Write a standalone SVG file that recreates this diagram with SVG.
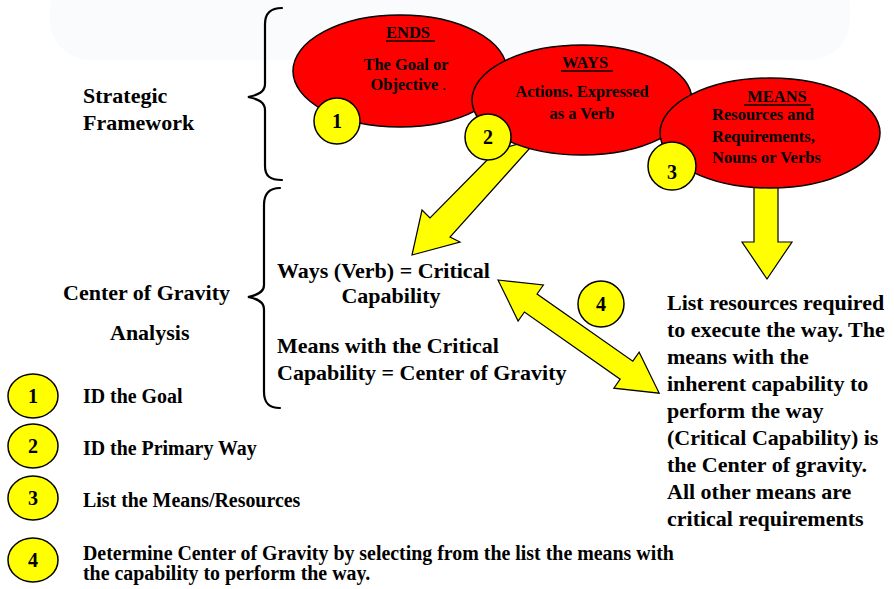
<svg xmlns="http://www.w3.org/2000/svg" width="894" height="589" viewBox="0 0 894 589">
<style>
text{font-family:"Liberation Serif","Times New Roman",serif;font-weight:bold;fill:#000}
.oval{fill:#ff0000;stroke:#000;stroke-width:1.5}
.num{fill:#ffff00;stroke:#000;stroke-width:1.5}
.arr{fill:#ffff00;stroke:#000;stroke-width:1.2;stroke-linejoin:miter}
.brace{fill:none;stroke:#000;stroke-width:2.2;stroke-linecap:round}
.ul{stroke:#000;stroke-width:1.6}
.ell{font-size:16.5px}
.big{font-size:22px}
.leg{font-size:19.9px}
.n{font-size:20px;text-anchor:middle}
.c{text-anchor:middle}
</style>
<rect width="894" height="589" fill="#ffffff"/>
<rect x="50" y="-30" width="800" height="90" rx="40" fill="#fafbfd"/>

<g id="connectors">
  <polygon class="arr" points="497,150 430,218 422,210 412,255 460,242 450,237 539,138"/>
  <polygon class="arr" points="754,180 778,180 778,242 792,242 767,279 742,242 754,242"/>
  <polygon class="arr" transform="translate(498,280) rotate(35.07)" points="0,0 40,-22 40,-11 157,-11 157,-22 197,0 157,22 157,11 40,11 40,22"/>
</g>

<g id="brace-strategic">
  <path class="brace" d="M282,8 C270,8 265,14 265,24 L265,84 C265,92 258,95 248,97 C258,99 265,102 265,110 L265,166 C265,176 270,180 282,180"/>
  <text class="big" x="83" y="103">Strategic</text>
  <text class="big" x="83" y="130">Framework</text>
</g>

<g id="brace-cog">
  <path class="brace" d="M280,188 C268,188 264,195 264,205 L264,285 C264,292 258,295 248,297 C258,299 264,302 264,309 L264,392 C264,402 268,408 280,408"/>
  <text class="big" x="63" y="300">Center of Gravity</text>
  <text class="big" x="110" y="340">Analysis</text>
</g>

<g id="ends">
  <ellipse class="oval" cx="400" cy="71" rx="107" ry="56"/>
  <text class="ell c" x="408" y="38">ENDS</text>
  <line class="ul" x1="386" y1="41" x2="435" y2="41"/>
  <text class="ell c" x="406" y="70">The Goal or</text>
  <text class="ell c" x="408" y="90">Objective <tspan font-size="12">.</tspan></text>
</g>

<g id="ways">
  <ellipse class="oval" cx="582" cy="100" rx="110" ry="55"/>
  <text class="ell c" x="585" y="68">WAYS</text>
  <line class="ul" x1="561" y1="71" x2="613" y2="71"/>
  <text class="ell c" x="582" y="97">Actions. Expressed</text>
  <text class="ell c" x="582" y="119">as a Verb</text>
</g>

<g id="means">
  <ellipse class="oval" cx="770" cy="133" rx="110" ry="55"/>
  <text class="ell c" x="777" y="102">MEANS</text>
  <line class="ul" x1="744" y1="105" x2="811" y2="105"/>
  <text class="ell" x="712" y="120">Resources and</text>
  <text class="ell" x="712" y="142">Requirements,</text>
  <text class="ell" x="712" y="163">Nouns or Verbs</text>
</g>

<g id="step1">
  <circle class="num" cx="337" cy="121" r="23"/>
  <text class="n" x="337" y="128">1</text>
</g>
<g id="step2">
  <circle class="num" cx="488" cy="137" r="23"/>
  <text class="n" x="488" y="144">2</text>
</g>
<g id="step3">
  <circle class="num" cx="672" cy="166" r="24"/>
  <text class="n" x="672" y="179">3</text>
</g>
<g id="step4">
  <circle class="num" cx="601" cy="304" r="23"/>
  <text class="n" x="601" y="311">4</text>
</g>

<g id="critical-capability">
  <text class="big" x="277" y="278">Ways (Verb) = Critical</text>
  <text class="big c" x="391" y="303">Capability</text>
  <text class="big" x="277" y="353">Means with the Critical</text>
  <text class="big" x="277" y="380">Capability = Center of Gravity</text>
</g>

<g id="resources-list">
  <text class="big" x="667" y="310">List resources required</text>
  <text class="big" x="667" y="337">to execute the way. The</text>
  <text class="big" x="667" y="364">means with the</text>
  <text class="big" x="667" y="391">inherent capability to</text>
  <text class="big" x="667" y="418">perform the way</text>
  <text class="big" x="667" y="445">(Critical Capability) is</text>
  <text class="big" x="667" y="472">the Center of gravity.</text>
  <text class="big" x="667" y="499">All other means are</text>
  <text class="big" x="667" y="526">critical requirements</text>
</g>

<g id="legend">
  <g id="legend1">
    <ellipse class="num" cx="33" cy="396" rx="25" ry="22"/>
    <text class="n" x="33" y="403">1</text>
    <text class="leg" x="83" y="403">ID the Goal</text>
  </g>
  <g id="legend2">
    <ellipse class="num" cx="33" cy="446" rx="25" ry="22"/>
    <text class="n" x="33" y="453">2</text>
    <text class="leg" x="83" y="455">ID the Primary Way</text>
  </g>
  <g id="legend3">
    <ellipse class="num" cx="33" cy="498" rx="25" ry="22"/>
    <text class="n" x="33" y="505">3</text>
    <text class="leg" x="83" y="507">List the Means/Resources</text>
  </g>
  <g id="legend4">
    <ellipse class="num" cx="33" cy="560" rx="25" ry="22"/>
    <text class="n" x="33" y="567">4</text>
    <text class="leg" x="83" y="560">Determine Center of Gravity by selecting from the list the means with</text>
    <text class="leg" x="83" y="580">the capability to perform the way.</text>
  </g>
</g>
</svg>
